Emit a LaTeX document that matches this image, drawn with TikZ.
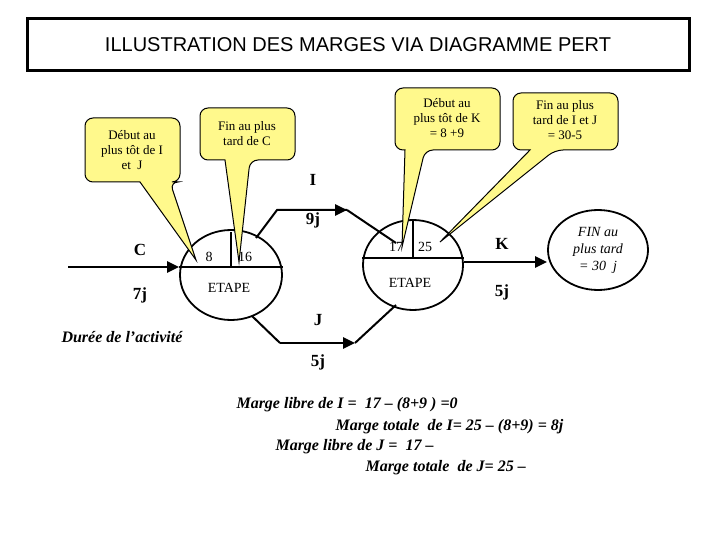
\documentclass[tikz,border=0pt]{standalone}
\usepackage{fontspec}
\setmainfont{Liberation Serif}
\newfontfamily\arialf{Liberation Sans}
\usetikzlibrary{arrows.meta,shapes.geometric}
\begin{document}
\begin{tikzpicture}[x=1pt,y=-1pt,
  call/.style={fill=yellow!45,draw,line width=1pt},
  calltxt/.style={align=center,font=\fontsize{13}{15}\selectfont},
  arr/.style={line width=2.6pt,-{Triangle[length=12pt,width=11pt]}},
  lbl/.style={font=\bfseries\fontsize{17}{19}\selectfont},
  etape/.style={draw,line width=1.8pt,fill=white},
  bt/.style={font=\bfseries\itshape\fontsize{16}{18}\selectfont,anchor=west}]
\useasboundingbox (0,0) rectangle (720,540);
\node[draw,line width=3pt,minimum width=662,minimum height=52,font=\arialf\fontsize{20}{22}\selectfont] (title) at (358,45) {ILLUSTRATION DES MARGES VIA DIAGRAMME PERT};
% arrows
\coordinate (cs) at (68,267);
\node[etape,ellipse,minimum width=102,minimum height=90,inner sep=0] (e1) at (231,275) {};
\node[etape,ellipse,minimum width=100,minimum height=90,inner sep=0] (e2) at (413,265) {};
\node[draw,line width=1.8pt,ellipse,minimum width=100,minimum height=80,inner sep=0,align=center,font=\itshape\fontsize{14}{17}\selectfont] (fin) at (598,250) {FIN au\\plus tard\\= 30\ \ j};
\draw[arr] (cs) -- (e1.west|-cs);
\draw[line width=1.8pt] (e1.west|-0,267) -- (e1.east|-0,267);
\draw[line width=1.8pt] (231,232) -- (231,267);
\draw[line width=1.8pt] (e2.west|-0,258) -- (e2.east|-0,258);
\draw[line width=1.8pt] (413,221) -- (413,258);
\draw[arr] (e2.east|-0,262) -- (fin.west|-0,262);
\coordinate (i1) at (277,210); \coordinate (i2) at (347,210);
\draw[line width=2pt] (256,238) -- (i1) -- (i2);
\draw[arr] (i1) -- (i2);
\draw[line width=2pt] (i2) -- (396,243);
\coordinate (j1) at (280,343); \coordinate (j2) at (355,343);
\draw[line width=2pt] (252,316) -- (j1);
\draw[arr] (j1) -- (j2);
\draw[line width=2pt] (j2) -- (396,305);
% node texts
\node[font=\fontsize{14}{16}\selectfont] (n8) at (209,257) {8};
\node[font=\fontsize{14}{16}\selectfont] (n16) at (245,257) {16};
\node[font=\fontsize{14}{16}\selectfont] (et1) at (229,288) {ETAPE};
\node[font=\fontsize{14}{16}\selectfont] (n17) at (396,247) {17};
\node[font=\fontsize{14}{16}\selectfont] (n25) at (425,247) {25};
\node[font=\fontsize{14}{16}\selectfont] (et2) at (410,283) {ETAPE};
% labels
\node[lbl] (lC) at (140,250) {C};
\node[lbl] (l7) at (140,295) {7j};
\node[lbl] (lI) at (313,180) {I};
\node[lbl] (l9) at (313,220) {9j};
\node[lbl] (lJ) at (318,320) {J};
\node[lbl] (l5a) at (318,362) {5j};
\node[lbl] (lK) at (502,244) {K};
\node[lbl] (l5b) at (502,292) {5j};
% callouts
\draw[call,rounded corners=8] (85,118) -- (180,118) -- (180,182) -- (170,182) [sharp corners]-- (196,260) -- (140,182) [rounded corners=8]-- (85,182) -- cycle;
\node[calltxt] (c1) at (132,150) {Début au\\plus tôt de I\\et\ \ J};
\draw[call,rounded corners=8] (200,108) -- (295,108) -- (295,160) -- (250,160) [sharp corners]-- (239,262) -- (225,160) [rounded corners=8]-- (200,160) -- cycle;
\node[calltxt] (c2) at (247,134) {Fin au plus\\tard de C};
\draw[call,rounded corners=8] (395,88) -- (500,88) -- (500,150) -- (425,150) [sharp corners]-- (402,247) -- (405,150) [rounded corners=8]-- (395,150) -- cycle;
\node[calltxt] (c3) at (447,118) {Début au\\plus tôt de K\\= 8 +9};
\draw[call,rounded corners=8] (513,93) -- (618,93) -- (618,150) -- (555,150) [sharp corners]-- (440,242) -- (530,150) [rounded corners=8]-- (513,150) -- cycle;
\node[calltxt] (c4) at (565,120) {Fin au plus\\tard de I et J\\= 30-5};
% bottom texts
\node[bt] (dur) at (58,337) {Durée de l’activité};
\node[bt] (m1) at (233,405) {Marge libre de I =\ \ 17 – (8+9 ) =0};
\node[bt] (m2) at (332,427) {Marge totale\ \ de I= 25 – (8+9) = 8j};
\node[bt] (m3) at (272,447) {Marge libre de J =\ \ 17 –};
\node[bt] (m4) at (362,468) {Marge totale\ \ de J= 25 –};
\end{tikzpicture}
\end{document}
